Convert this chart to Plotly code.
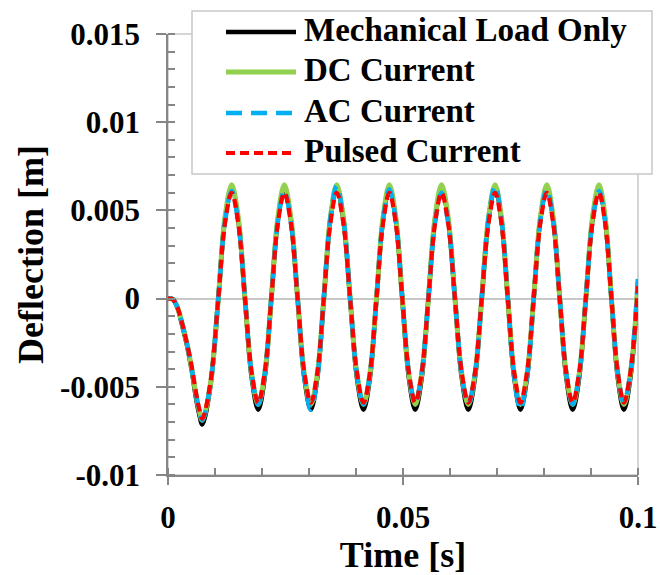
import plotly.graph_objects as go

# Time nodes [s]
time_s = [0, 0.001, 0.002, 0.003, 0.004, 0.005, 0.006, 0.0066, 0.0073,
          0.0090, 0.0107, 0.0121, 0.01355,
          0.01496, 0.01638, 0.01779, 0.0192,
          0.02059, 0.02198, 0.02336, 0.02475,
          0.02616, 0.02758, 0.02899, 0.0304,
          0.03178, 0.03315, 0.03453, 0.0359,
          0.03733, 0.03875, 0.04018, 0.0416,
          0.04298, 0.04435, 0.04573, 0.0471,
          0.04848, 0.04985, 0.05123, 0.0526,
          0.0540, 0.0554, 0.0568, 0.0582,
          0.05963, 0.06105, 0.06248, 0.0639,
          0.06533, 0.06675, 0.06818, 0.0696,
          0.07095, 0.0723, 0.07365, 0.0750,
          0.0764, 0.0778, 0.0792, 0.0806,
          0.08198, 0.08335, 0.08473, 0.0861,
          0.0875, 0.0889, 0.0903, 0.0917,
          0.09303, 0.09435, 0.09568, 0.0970,
          0.0984, 0.1]

mech = [0, -0.00003, -0.0005, -0.0015, -0.0026, -0.0040, -0.0057, -0.0065, -0.00714,
        -0.0050, 0.0, 0.00445, 0.0063,
        0.00445, 0.0, -0.00445, -0.0063,
        -0.00445, 0.0, 0.00445, 0.0063,
        0.00445, 0.0, -0.00445, -0.0063,
        -0.00445, 0.0, 0.00445, 0.0063,
        0.00445, 0.0, -0.00445, -0.0063,
        -0.00445, 0.0, 0.00445, 0.0063,
        0.00445, 0.0, -0.00445, -0.0063,
        -0.00445, 0.0, 0.00445, 0.0063,
        0.00445, 0.0, -0.00445, -0.0063,
        -0.00445, 0.0, 0.00445, 0.0063,
        0.00445, 0.0, -0.00445, -0.0063,
        -0.00445, 0.0, 0.00445, 0.0063,
        0.00445, 0.0, -0.00445, -0.0063,
        -0.00445, 0.0, 0.00445, 0.0063,
        0.00445, 0.0, -0.00445, -0.0063,
        -0.00445, 0.0009]

dc = [0, -0.00003, -0.0005, -0.0014, -0.0025, -0.0039, -0.0055, -0.0063, -0.0069,
      -0.0049, 0.0, 0.00456, 0.00645,
      0.00456, 0.0, -0.00424, -0.0060,
      -0.00424, 0.0, 0.00456, 0.00645,
      0.00456, 0.0, -0.00424, -0.0060,
      -0.00424, 0.0, 0.00456, 0.00645,
      0.00456, 0.0, -0.00424, -0.0060,
      -0.00424, 0.0, 0.00456, 0.00645,
      0.00456, 0.0, -0.00424, -0.0060,
      -0.00424, 0.0, 0.00456, 0.00645,
      0.00456, 0.0, -0.00424, -0.0060,
      -0.00424, 0.0, 0.00456, 0.00645,
      0.00456, 0.0, -0.00424, -0.0060,
      -0.00424, 0.0, 0.00456, 0.00645,
      0.00456, 0.0, -0.00424, -0.0060,
      -0.00424, 0.0, 0.00456, 0.00645,
      0.00456, 0.0, -0.00424, -0.0060,
      -0.00424, 0.0009]

ac = [0, -0.00003, -0.0005, -0.0014, -0.0025, -0.0039, -0.0055, -0.0063, -0.0069,
      -0.0049, 0.0, 0.00431, 0.0061,
      0.00431, 0.0, -0.00424, -0.0060,
      -0.00424, 0.0, 0.00431, 0.0061,
      0.00431, 0.0, -0.00445, -0.0063,
      -0.00445, 0.0, 0.00452, 0.0064,
      0.00452, 0.0, -0.00424, -0.0060,
      -0.00424, 0.0, 0.00438, 0.0062,
      0.00438, 0.0, -0.00417, -0.0059,
      -0.00417, 0.0, 0.00424, 0.0060,
      0.00424, 0.0, -0.00424, -0.0060,
      -0.00424, 0.0, 0.00452, 0.0064,
      0.00452, 0.0, -0.00445, -0.0063,
      -0.00445, 0.0, 0.00438, 0.0062,
      0.00438, 0.0, -0.00424, -0.0060,
      -0.00424, 0.0, 0.00431, 0.0061,
      0.00431, 0.0, -0.00417, -0.0059,
      -0.00417, 0.00126]

pulsed = [0, -0.00003, -0.0005, -0.0014, -0.0025, -0.0038, -0.0054, -0.0062, -0.0068,
          -0.0048, 0.0, 0.00424, 0.0060,
          0.00424, 0.0, -0.00417, -0.0059,
          -0.00417, 0.0, 0.00424, 0.0060,
          0.00424, 0.0, -0.00417, -0.0059,
          -0.00417, 0.0, 0.00424, 0.0060,
          0.00424, 0.0, -0.00417, -0.0059,
          -0.00417, 0.0, 0.00424, 0.0060,
          0.00424, 0.0, -0.00417, -0.0059,
          -0.00417, 0.0, 0.00424, 0.0060,
          0.00424, 0.0, -0.00417, -0.0059,
          -0.00417, 0.0, 0.00424, 0.0060,
          0.00424, 0.0, -0.00417, -0.0059,
          -0.00417, 0.0, 0.00424, 0.0060,
          0.00424, 0.0, -0.00417, -0.0059,
          -0.00417, 0.0, 0.00424, 0.0060,
          0.00424, 0.0, -0.00417, -0.0059,
          -0.00417, 0.0007]

series_names = ["Mechanical Load Only", "DC Current", "AC Current", "Pulsed Current"]
x_ticks = [0, 0.05, 0.1]
x_ticktext = ["0", "0.05", "0.1"]
y_ticks = [-0.01, -0.005, 0, 0.005, 0.01, 0.015]
y_ticktext = ["-0.01", "-0.005", "0", "0.005", "0.01", "0.015"]

FONT = "Liberation Serif, Times New Roman, serif"
AXC = "#868686"
W, H = 660, 575
ML, MR, MT, MB = 168, 22, 34, 100
PW, PH = W - ML - MR, H - MT - MB


def px2x(p):
    return (p - ML) / PW


def py2y(p):
    return (H - MB - p) / PH


fig = go.Figure()
styles = [
    dict(color="#000000", width=4.5, dash="solid"),
    dict(color="#92D050", width=5, dash="solid"),
    dict(color="#00B0F0", width=4.5, dash="16px,9px"),
    dict(color="#FF0000", width=4.2, dash="9px,5px"),
]
for name, ys, st in zip(series_names, [mech, dc, ac, pulsed], styles):
    fig.add_trace(go.Scatter(x=time_s, y=ys, mode="lines", name=name, showlegend=False,
                             line=dict(shape="spline", smoothing=1.0, **st)))

# plot-area border (light gray)
fig.add_shape(type="rect", xref="paper", yref="paper", x0=0, y0=0, x1=1, y1=1,
              line=dict(color="#c8c8c8", width=1.5), layer="below")

# legend box drawn manually for exact spacing
fig.add_shape(type="rect", xref="paper", yref="paper",
              x0=px2x(192), x1=px2x(652), y0=py2y(174), y1=py2y(11),
              fillcolor="white", line=dict(color="#c8c8c8", width=1.5), layer="above")
row_y = [32, 72, 113, 153]
for name, st, ry in zip(series_names, styles, row_y):
    fig.add_shape(type="line", xref="paper", yref="paper",
                  x0=px2x(226), x1=px2x(296), y0=py2y(ry), y1=py2y(ry),
                  line=dict(color=st["color"], width=st["width"], dash=st["dash"]), layer="above")
    fig.add_annotation(xref="paper", yref="paper", x=px2x(302), y=py2y(ry - 2),
                       xanchor="left", yanchor="middle", showarrow=False, text=name,
                       font=dict(family=FONT, size=33, weight="bold", color="black"))

fig.update_layout(
    width=W, height=H,
    margin=dict(l=ML, r=MR, t=MT, b=MB, autoexpand=False),
    paper_bgcolor="white", plot_bgcolor="white",
    font=dict(family=FONT, color="black"),
    showlegend=False,
    xaxis=dict(range=[0, 0.1], tickvals=x_ticks, ticktext=x_ticktext, automargin=False,
               ticks="outside", ticklen=8, tickwidth=1.5, tickcolor=AXC,
               showline=True, linecolor=AXC, linewidth=1.5,
               showgrid=False, zeroline=False,
               minor=dict(dtick=0.01, ticks="inside", ticklen=7, tickwidth=1.5, tickcolor=AXC),
               tickfont=dict(family=FONT, size=31, weight="bold", color="black"),
               ticklabelstandoff=6,
               title=dict(text="Time [s]", font=dict(family=FONT, size=36, weight="bold", color="black"), standoff=16)),
    yaxis=dict(range=[-0.01, 0.015], tickvals=y_ticks, ticktext=y_ticktext, automargin=False,
               ticks="outside", ticklen=10, tickwidth=1.5, tickcolor=AXC,
               showline=True, linecolor=AXC, linewidth=1.5,
               showgrid=False, zeroline=True, zerolinecolor="#c8c8c8", zerolinewidth=1.5,
               minor=dict(dtick=0.001, ticks="inside", ticklen=7, tickwidth=1.5, tickcolor=AXC),
               tickfont=dict(family=FONT, size=31, weight="bold", color="black"),
               ticklabelstandoff=10,
               title=dict(text="Deflection [m]", font=dict(family=FONT, size=36, weight="bold", color="black"), standoff=5)),
    xaxis2=dict(overlaying="x", anchor="y", side="bottom", range=[0, 0.1], tickvals=x_ticks,
                ticks="inside", ticklen=7, tickwidth=1.5, tickcolor=AXC, automargin=False,
                showticklabels=False, showline=False, showgrid=False, zeroline=False),
    yaxis2=dict(overlaying="y", anchor="x", side="left", range=[-0.01, 0.015], tickvals=y_ticks,
                ticks="inside", ticklen=7, tickwidth=1.5, tickcolor=AXC, automargin=False,
                showticklabels=False, showline=False, showgrid=False, zeroline=False),
)

fig.write_html("out.html")
